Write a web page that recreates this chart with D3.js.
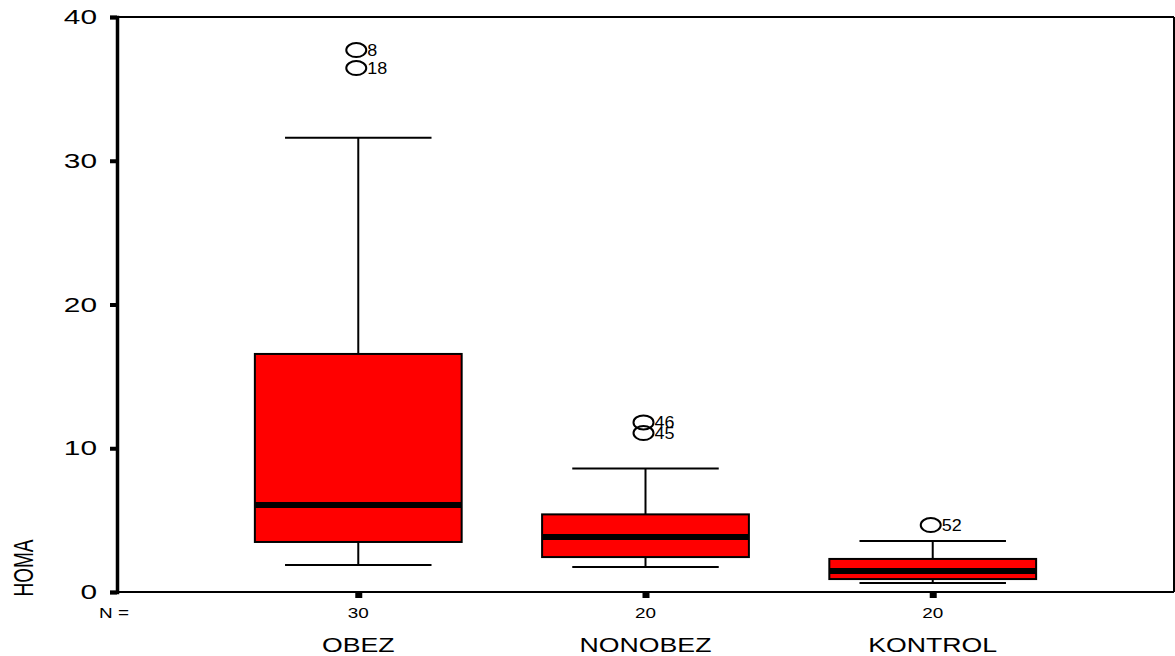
<!DOCTYPE html>
<html>
<head>
<meta charset="utf-8">
<script src="https://cdn.jsdelivr.net/npm/d3@7"></script>
<style>
  body { margin: 0; background: #fff; }
  text { font-family: "Liberation Sans", Arial, sans-serif; fill: #000; }
</style>
</head>
<body>
<svg id="chart" width="1175" height="656"></svg>
<script>
// groups and box statistics (HOMA)
const groups = ['OBEZ', 'NONOBEZ', 'KONTROL']
const counts = [30, 20, 20]
const lowWhisker = [1.88, 1.74, 0.63]
const q1 = [3.48, 2.43, 0.9]
const median = [6.05, 3.83, 1.46]
const q3 = [16.56, 5.4, 2.3]
const highWhisker = [31.6, 8.6, 3.55]
// outliers: [group, value, case label]
const outliers = [
  ['OBEZ', 37.7, '8'],
  ['OBEZ', 36.45, '18'],
  ['NONOBEZ', 11.8, '46'],
  ['NONOBEZ', 11.06, '45'],
  ['KONTROL', 4.66, '52']
]
const yTicks = [0, 10, 20, 30, 40]

const plotL = 117, plotR = 1174, plotT = 17, plotB = 592
const svg = d3.select('#chart')

// the original fonts are wider than Arial, stretch them horizontally
function stretch(sel, k) {
  sel.each(function () {
    const w = this.getComputedTextLength()
    d3.select(this).attr('textLength', w * k).attr('lengthAdjust', 'spacingAndGlyphs')
  })
}

const x = d3.scalePoint().domain(groups).range([plotL, plotR]).padding(0.84)
const y = d3.scaleLinear().domain([0, 40]).range([plotB, plotT])
const step = x.step()
const boxHalf = step * 0.36
const capHalf = step * 0.255

// 边框
svg.append('line').attr('x1', plotL).attr('x2', plotR).attr('y1', plotT).attr('y2', plotT)
  .attr('stroke', '#000').attr('stroke-width', 2)
svg.append('line').attr('x1', plotR).attr('x2', plotR).attr('y1', plotT).attr('y2', plotB)
  .attr('stroke', '#000').attr('stroke-width', 2)
svg.append('line').attr('x1', plotL).attr('x2', plotR).attr('y1', plotB).attr('y2', plotB)
  .attr('stroke', '#000').attr('stroke-width', 2)

// y 轴
const yAxis = svg.append('g').attr('transform', `translate(${plotL},0)`)
  .call(d3.axisLeft(y).tickValues(yTicks).tickSize(7).tickPadding(13).tickFormat(d3.format('d')))
yAxis.select('.domain').attr('stroke', '#000').attr('stroke-width', 3.5)
yAxis.selectAll('.tick line').attr('stroke', '#000').attr('stroke-width', 4)
yAxis.selectAll('.tick text').attr('font-size', 21)
  .style('font-family', '"Liberation Sans", Arial, sans-serif')
  .call(stretch, 1.42)

// x 轴刻度
const xAxis = svg.append('g').attr('transform', `translate(0,${plotB})`)
  .call(d3.axisBottom(x).tickSize(6).tickFormat(''))
xAxis.select('.domain').remove()
xAxis.selectAll('.tick line').attr('stroke', '#000').attr('stroke-width', 7)

// N labels
svg.append('text').attr('x', 99).attr('y', 618).attr('font-size', 14).text('N =')
  .call(stretch, 1.35)
svg.selectAll('text.n').data(groups).join('text').attr('class', 'n')
  .attr('x', d => x(d)).attr('y', 618).attr('text-anchor', 'middle').attr('font-size', 14)
  .text((d, i) => counts[i])
  .call(stretch, 1.35)
svg.selectAll('text.cat').data(groups).join('text').attr('class', 'cat')
  .attr('x', d => x(d)).attr('y', 652).attr('text-anchor', 'middle').attr('font-size', 21)
  .text(d => d)
  .call(stretch, 1.27)

// y label
svg.append('text').attr('transform', 'translate(33,568) rotate(-90)')
  .attr('text-anchor', 'middle').attr('font-size', 28)
  .attr('textLength', 57).attr('lengthAdjust', 'spacingAndGlyphs')
  .text('HOMA')

// boxes
const g = svg.append('g')
groups.forEach((grp, i) => {
  const cx = x(grp)
  const b = g.append('g')
  b.append('line').attr('x1', cx).attr('x2', cx).attr('y1', y(highWhisker[i])).attr('y2', y(q3[i]))
    .attr('stroke', '#000').attr('stroke-width', 2)
  b.append('line').attr('x1', cx).attr('x2', cx).attr('y1', y(q1[i])).attr('y2', y(lowWhisker[i]))
    .attr('stroke', '#000').attr('stroke-width', 2)
  ;[highWhisker[i], lowWhisker[i]].forEach(v => {
    b.append('line').attr('x1', cx - capHalf).attr('x2', cx + capHalf).attr('y1', y(v)).attr('y2', y(v))
      .attr('stroke', '#000').attr('stroke-width', 2)
  })
  b.append('rect').attr('x', cx - boxHalf).attr('width', boxHalf * 2)
    .attr('y', y(q3[i])).attr('height', y(q1[i]) - y(q3[i]))
    .attr('fill', '#ff0000').attr('stroke', '#000').attr('stroke-width', 2)
  b.append('line').attr('x1', cx - boxHalf).attr('x2', cx + boxHalf).attr('y1', y(median[i])).attr('y2', y(median[i]))
    .attr('stroke', '#000').attr('stroke-width', 6)
})

// outliers
const o = svg.append('g')
o.selectAll('ellipse').data(outliers).join('ellipse')
  .attr('cx', d => x(d[0]) - 2).attr('cy', d => y(d[1]))
  .attr('rx', 10).attr('ry', 7)
  .attr('fill', 'none').attr('stroke', '#000').attr('stroke-width', 2)
o.selectAll('text').data(outliers).join('text')
  .attr('x', d => x(d[0]) + 9).attr('y', d => y(d[1]) + 6)
  .attr('font-size', 16)
  .text(d => d[2])
  .call(stretch, 1.12)
</script>
</body>
</html>
